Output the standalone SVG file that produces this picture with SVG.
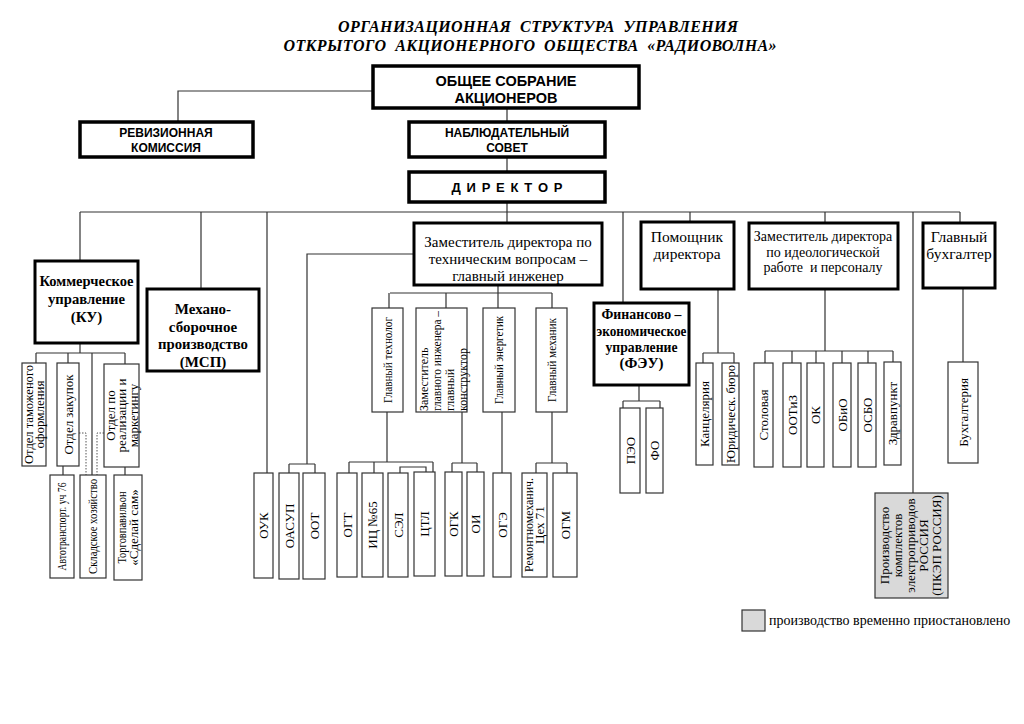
<svg xmlns="http://www.w3.org/2000/svg" width="1024" height="724" viewBox="0 0 1024 724">
<style>
.bg{fill:#fff}
.tk{fill:#fff;stroke:#000;stroke-width:3.5}
.tm{fill:#fff;stroke:#000;stroke-width:3}
.tn{fill:#fff;stroke:#333;stroke-width:1.2}
.gr{fill:#d9d9d9;stroke:#333;stroke-width:1.2}
.ln{fill:none;stroke:#333;stroke-width:1.2}
.dt{fill:none;stroke:#555;stroke-width:1;stroke-dasharray:1.5 1.5}
.ttl{font-family:"Liberation Serif",serif;font-weight:bold;font-style:italic;font-size:16px;text-anchor:middle}
.sb{font-family:"Liberation Sans",Arial,sans-serif;font-weight:bold;text-anchor:middle}
.rb{font-family:"Liberation Serif",serif;font-weight:bold;text-anchor:middle;font-size:15px}
.rr{font-family:"Liberation Serif",serif;text-anchor:middle}
.v{font-family:"Liberation Serif",serif;text-anchor:middle;font-size:13px}
.vs{font-family:"Liberation Serif",serif;text-anchor:start;font-size:12px}
</style>
<rect class="bg" x="0" y="0" width="1024" height="724"/>
<g id="title">
<text class="ttl" x="538" y="32" textLength="400" lengthAdjust="spacing" xml:space="preserve">ОРГАНИЗАЦИОННАЯ  СТРУКТУРА  УПРАВЛЕНИЯ</text>
<text class="ttl" x="530" y="51" textLength="493" lengthAdjust="spacing" xml:space="preserve">ОТКРЫТОГО  АКЦИОНЕРНОГО  ОБЩЕСТВА  «РАДИОВОЛНА»</text>
</g>
<g id="connectors">
<path class="ln" d="M373 91H178V122"/>
<path class="ln" d="M507 108V122M507 157V172M507 202V223"/>
<path class="ln" d="M80 212H960"/>
<path class="ln" d="M80 212V261M201 212V289M267 212V473M623 212V303M690 212V222M825 212V223M913 212V493M960 212V223"/>
<path class="ln" d="M80 343V353M36 353H125M36 353V363M68 353V363M92 353V475M125 353V364"/>
<path class="ln" d="M63 466V475M125 467V475"/>
<path class="dt" d="M79 433H86V475M104 433H97V475"/>
<path class="ln" d="M414 254H307V464M289 464H315M289 464V473M315 464V473"/>
<path class="ln" d="M498 285V293M390 293H552M389 293V308M446 293V308M552 293V308M498 293V308"/>
<path class="ln" d="M387 412V462M349 462H433M349 462V473M374 462V473M433 462V472M400 473V467H426V472"/>
<path class="ln" d="M462 412V463M452 463H477M452 463V472M477 463V472"/>
<path class="ln" d="M502 412V473"/>
<path class="ln" d="M552 412V463M536 463H567M536 463V473M567 463V473"/>
<path class="ln" d="M639 385V401M623 401H660M623 401V408M660 401V408"/>
<path class="ln" d="M718 289V353M703 353H734M703 353V363M734 353V363"/>
<path class="ln" d="M825 289V351M765 351H893M765 351V363M792 351V363M816 351V363M842 351V363M868 351V363M893 351V362"/>
<path class="ln" d="M963 288V362"/>
</g>
<g id="obshchee"><rect class="tk" x="373" y="66" width="266" height="42"/>
<text class="sb" font-size="14.5" x="506" y="86">ОБЩЕЕ СОБРАНИЕ</text>
<text class="sb" font-size="14.5" x="506" y="103">АКЦИОНЕРОВ</text></g>
<g id="revizion"><rect class="tk" x="80" y="122" width="173" height="35"/>
<text class="sb" font-size="12" x="166" y="137">РЕВИЗИОННАЯ</text>
<text class="sb" font-size="12" x="166" y="152">КОМИССИЯ</text></g>
<g id="nabl"><rect class="tk" x="409" y="122" width="196" height="35"/>
<text class="sb" font-size="12" x="507" y="137">НАБЛЮДАТЕЛЬНЫЙ</text>
<text class="sb" font-size="12" x="507" y="152">СОВЕТ</text></g>
<g id="director"><rect class="tk" x="409" y="172" width="196" height="30"/>
<text class="sb" font-size="13" x="507" y="192" textLength="111" lengthAdjust="spacing">Д И Р Е К Т О Р</text></g>
<g id="ku"><rect class="tm" x="35" y="261" width="103" height="82"/>
<text class="rb" x="86.5" y="286" textLength="94" lengthAdjust="spacingAndGlyphs">Коммерческое</text>
<text class="rb" x="86.5" y="304" textLength="77" lengthAdjust="spacingAndGlyphs">управление</text>
<text class="rb" x="86.5" y="322">(КУ)</text></g>
<g id="msp"><rect class="tm" x="147" y="289" width="112" height="82"/>
<text class="rb" x="203" y="314">Механо-</text>
<text class="rb" x="203" y="332">сборочное</text>
<text class="rb" x="203" y="349" textLength="90" lengthAdjust="spacingAndGlyphs">производство</text>
<text class="rb" x="203" y="367">(МСП)</text></g>
<g id="zamgi"><rect class="tm" x="414" y="223" width="188" height="62"/>
<text class="rr" font-size="15" x="508" y="247">Заместитель директора по</text>
<text class="rr" font-size="15" x="508" y="264">техническим вопросам –</text>
<text class="rr" font-size="15" x="508" y="281">главный инженер</text></g>
<g id="pomoshchnik"><rect class="tm" x="641" y="222" width="93" height="67"/>
<text class="rr" font-size="15.5" x="687" y="242">Помощник</text>
<text class="rr" font-size="15.5" x="687" y="259">директора</text></g>
<g id="feu"><rect class="tm" x="594" y="303" width="95" height="82"/>
<text class="rb" font-size="14" x="641.5" y="319" textLength="80" lengthAdjust="spacingAndGlyphs">Финансово –</text>
<text class="rb" font-size="14" x="641.5" y="336" textLength="90" lengthAdjust="spacingAndGlyphs">экономическое</text>
<text class="rb" font-size="14" x="641.5" y="352" textLength="72" lengthAdjust="spacingAndGlyphs">управление</text>
<text class="rb" font-size="14" x="641.5" y="368">(ФЭУ)</text></g>
<g id="zamideol"><rect class="tm" x="749" y="223" width="149" height="66"/>
<text class="rr" font-size="14" x="823" y="241">Заместитель директора</text>
<text class="rr" font-size="14" x="823" y="257">по идеологической</text>
<text class="rr" font-size="14" x="823" y="272" xml:space="preserve">работе  и персоналу</text></g>
<g id="glbuh"><rect class="tm" x="923" y="223" width="72" height="65"/>
<text class="rr" font-size="15.5" x="959" y="242">Главный</text>
<text class="rr" font-size="15.5" x="959" y="259">бухгалтер</text></g>
<g id="otd-tamozh"><rect class="tn" x="22" y="363" width="24" height="103"/>
<text class="v" transform="translate(0,414.5) rotate(-90)"><tspan x="0" y="32.5" textLength="99" lengthAdjust="spacingAndGlyphs">Отдел таможеного</tspan><tspan x="0" y="44">оформления</tspan></text></g>
<g id="otd-zakup"><rect class="tn" x="57" y="363" width="22" height="103"/>
<text class="v" transform="translate(72.5,414.5) rotate(-90)" textLength="80" lengthAdjust="spacingAndGlyphs">Отдел закупок</text></g>
<g id="otd-real"><rect class="tn" x="104" y="364" width="35" height="103"/>
<text class="v" font-size="12.5" transform="translate(0,415.5) rotate(-90)"><tspan x="0" y="114.5">Отдел по</tspan><tspan x="0" y="126">реализации и</tspan><tspan x="0" y="137.5">маркетингу</tspan></text></g>
<g id="avtotrans"><rect class="tn" x="50" y="475" width="24" height="103"/>
<text class="v" font-size="10.5" transform="translate(65.5,526.5) rotate(-90)" textLength="88" lengthAdjust="spacingAndGlyphs">Автотранспорт. уч 76</text></g>
<g id="sklad"><rect class="tn" x="80" y="475" width="26" height="103"/>
<text class="v" font-size="11" transform="translate(96.5,526.5) rotate(-90)" textLength="95" lengthAdjust="spacingAndGlyphs">Складское хозяйство</text></g>
<g id="torg"><rect class="tn" x="114" y="475" width="28" height="105"/>
<text class="v" font-size="11" transform="translate(0,527.5) rotate(-90)"><tspan x="0" y="126" textLength="72" lengthAdjust="spacingAndGlyphs">Торговпавильон</tspan><tspan x="0" y="138">«Сделай сам»</tspan></text></g>
<g id="gl-tehnolog"><rect class="tn" x="372" y="308" width="31" height="104"/>
<text class="v" font-size="12" transform="translate(391.5,360) rotate(-90)" textLength="86" lengthAdjust="spacingAndGlyphs">Главный технолог</text></g>
<g id="zam-gk"><rect class="tn" x="416" y="308" width="51" height="104"/>
<text class="vs" transform="translate(0,411) rotate(-90)"><tspan x="0" y="428">Заместитель</tspan><tspan x="0" y="441" textLength="100" lengthAdjust="spacingAndGlyphs">главного инженера –</tspan><tspan x="0" y="454">главный</tspan><tspan x="0" y="467">конструктор</tspan></text></g>
<g id="gl-energ"><rect class="tn" x="483" y="308" width="32" height="104"/>
<text class="v" font-size="12" transform="translate(503,360) rotate(-90)" textLength="88" lengthAdjust="spacingAndGlyphs">Главный энергетик</text></g>
<g id="gl-mehan"><rect class="tn" x="536" y="308" width="31" height="104"/>
<text class="v" font-size="12" transform="translate(555.5,360) rotate(-90)" textLength="84" lengthAdjust="spacingAndGlyphs">Главный механик</text></g>
<g id="ouk"><rect class="tn" x="254" y="473" width="19" height="105"/>
<text class="v" transform="translate(268,525.5) rotate(-90)">ОУК</text></g>
<g id="oasup"><rect class="tn" x="279" y="473" width="20" height="106"/>
<text class="v" transform="translate(293.5,526) rotate(-90)">ОАСУП</text></g>
<g id="oot"><rect class="tn" x="303" y="473" width="22" height="106"/>
<text class="v" transform="translate(318.5,526) rotate(-90)">ООТ</text></g>
<g id="ogt"><rect class="tn" x="337" y="473" width="20" height="104"/>
<text class="v" transform="translate(351.5,525) rotate(-90)">ОГТ</text></g>
<g id="ic65"><rect class="tn" x="362" y="473" width="21" height="104"/>
<text class="v" transform="translate(377,525) rotate(-90)">ИЦ №65</text></g>
<g id="sel"><rect class="tn" x="388" y="473" width="20" height="104"/>
<text class="v" transform="translate(402.5,525) rotate(-90)">СЭЛ</text></g>
<g id="ctl"><rect class="tn" x="414" y="472" width="21" height="104"/>
<text class="v" transform="translate(429,524) rotate(-90)">ЦТЛ</text></g>
<g id="ogk"><rect class="tn" x="445" y="472" width="17" height="104"/>
<text class="v" transform="translate(458,524) rotate(-90)">ОГК</text></g>
<g id="oi"><rect class="tn" x="467" y="472" width="17" height="104"/>
<text class="v" transform="translate(480,524) rotate(-90)">ОИ</text></g>
<g id="oge"><rect class="tn" x="493" y="473" width="18" height="104"/>
<text class="v" transform="translate(506.5,525) rotate(-90)">ОГЭ</text></g>
<g id="remmeh"><rect class="tn" x="522" y="473" width="25" height="104"/>
<text class="v" font-size="11" transform="translate(0,525) rotate(-90)"><tspan x="0" y="533" textLength="94" lengthAdjust="spacingAndGlyphs">Ремонтномеханич.</tspan><tspan x="0" y="544">Цех 71</tspan></text></g>
<g id="ogm"><rect class="tn" x="553" y="473" width="24" height="104"/>
<text class="v" transform="translate(569.5,525) rotate(-90)">ОГМ</text></g>
<g id="peo"><rect class="tn" x="620" y="408" width="20" height="85"/>
<text class="v" transform="translate(634.5,450.5) rotate(-90)">ПЭО</text></g>
<g id="fo"><rect class="tn" x="646" y="408" width="17" height="85"/>
<text class="v" transform="translate(659,450.5) rotate(-90)">ФО</text></g>
<g id="kanc"><rect class="tn" x="696" y="363" width="17" height="102"/>
<text class="v" transform="translate(709,414) rotate(-90)">Канцелярия</text></g>
<g id="yurid"><rect class="tn" x="722" y="363" width="17" height="102"/>
<text class="v" transform="translate(735,414) rotate(-90)" textLength="98" lengthAdjust="spacingAndGlyphs">Юридическ. бюро</text></g>
<g id="stolov"><rect class="tn" x="754" y="363" width="19" height="104"/>
<text class="v" font-size="12" transform="translate(767.5,415) rotate(-90)">Столовая</text></g>
<g id="ootiz"><rect class="tn" x="783" y="363" width="18" height="104"/>
<text class="v" transform="translate(796.5,415) rotate(-90)">ООТиЗ</text></g>
<g id="ok"><rect class="tn" x="807" y="363" width="17" height="104"/>
<text class="v" transform="translate(820,415) rotate(-90)">ОК</text></g>
<g id="obio"><rect class="tn" x="833" y="363" width="18" height="104"/>
<text class="v" transform="translate(846.5,415) rotate(-90)">ОБиО</text></g>
<g id="osbo"><rect class="tn" x="858" y="363" width="18" height="104"/>
<text class="v" transform="translate(871.5,415) rotate(-90)">ОСБО</text></g>
<g id="zdrav"><rect class="tn" x="884" y="362" width="17" height="103"/>
<text class="v" transform="translate(897,413.5) rotate(-90)">Здравпункт</text></g>
<g id="buh"><rect class="tn" x="948" y="362" width="30" height="101"/>
<text class="v" transform="translate(967.5,412.5) rotate(-90)">Бухгалтерия</text></g>
<g id="pkep"><rect class="gr" x="875" y="493" width="73" height="105"/>
<text class="v" font-size="11.5" transform="translate(0,545.5) rotate(-90)"><tspan x="0" y="889">Производство</tspan><tspan x="0" y="902">комплектов</tspan><tspan x="0" y="915">электроприводов</tspan><tspan x="0" y="928">РОССИЯ</tspan><tspan x="0" y="941">(ПКЭП РОССИЯ)</tspan></text></g>
<g id="legend"><rect class="gr" x="742" y="610" width="23" height="21"/>
<text class="rr" font-size="14" x="769" y="625" style="text-anchor:start">производство временно приостановлено</text></g>
</svg>
